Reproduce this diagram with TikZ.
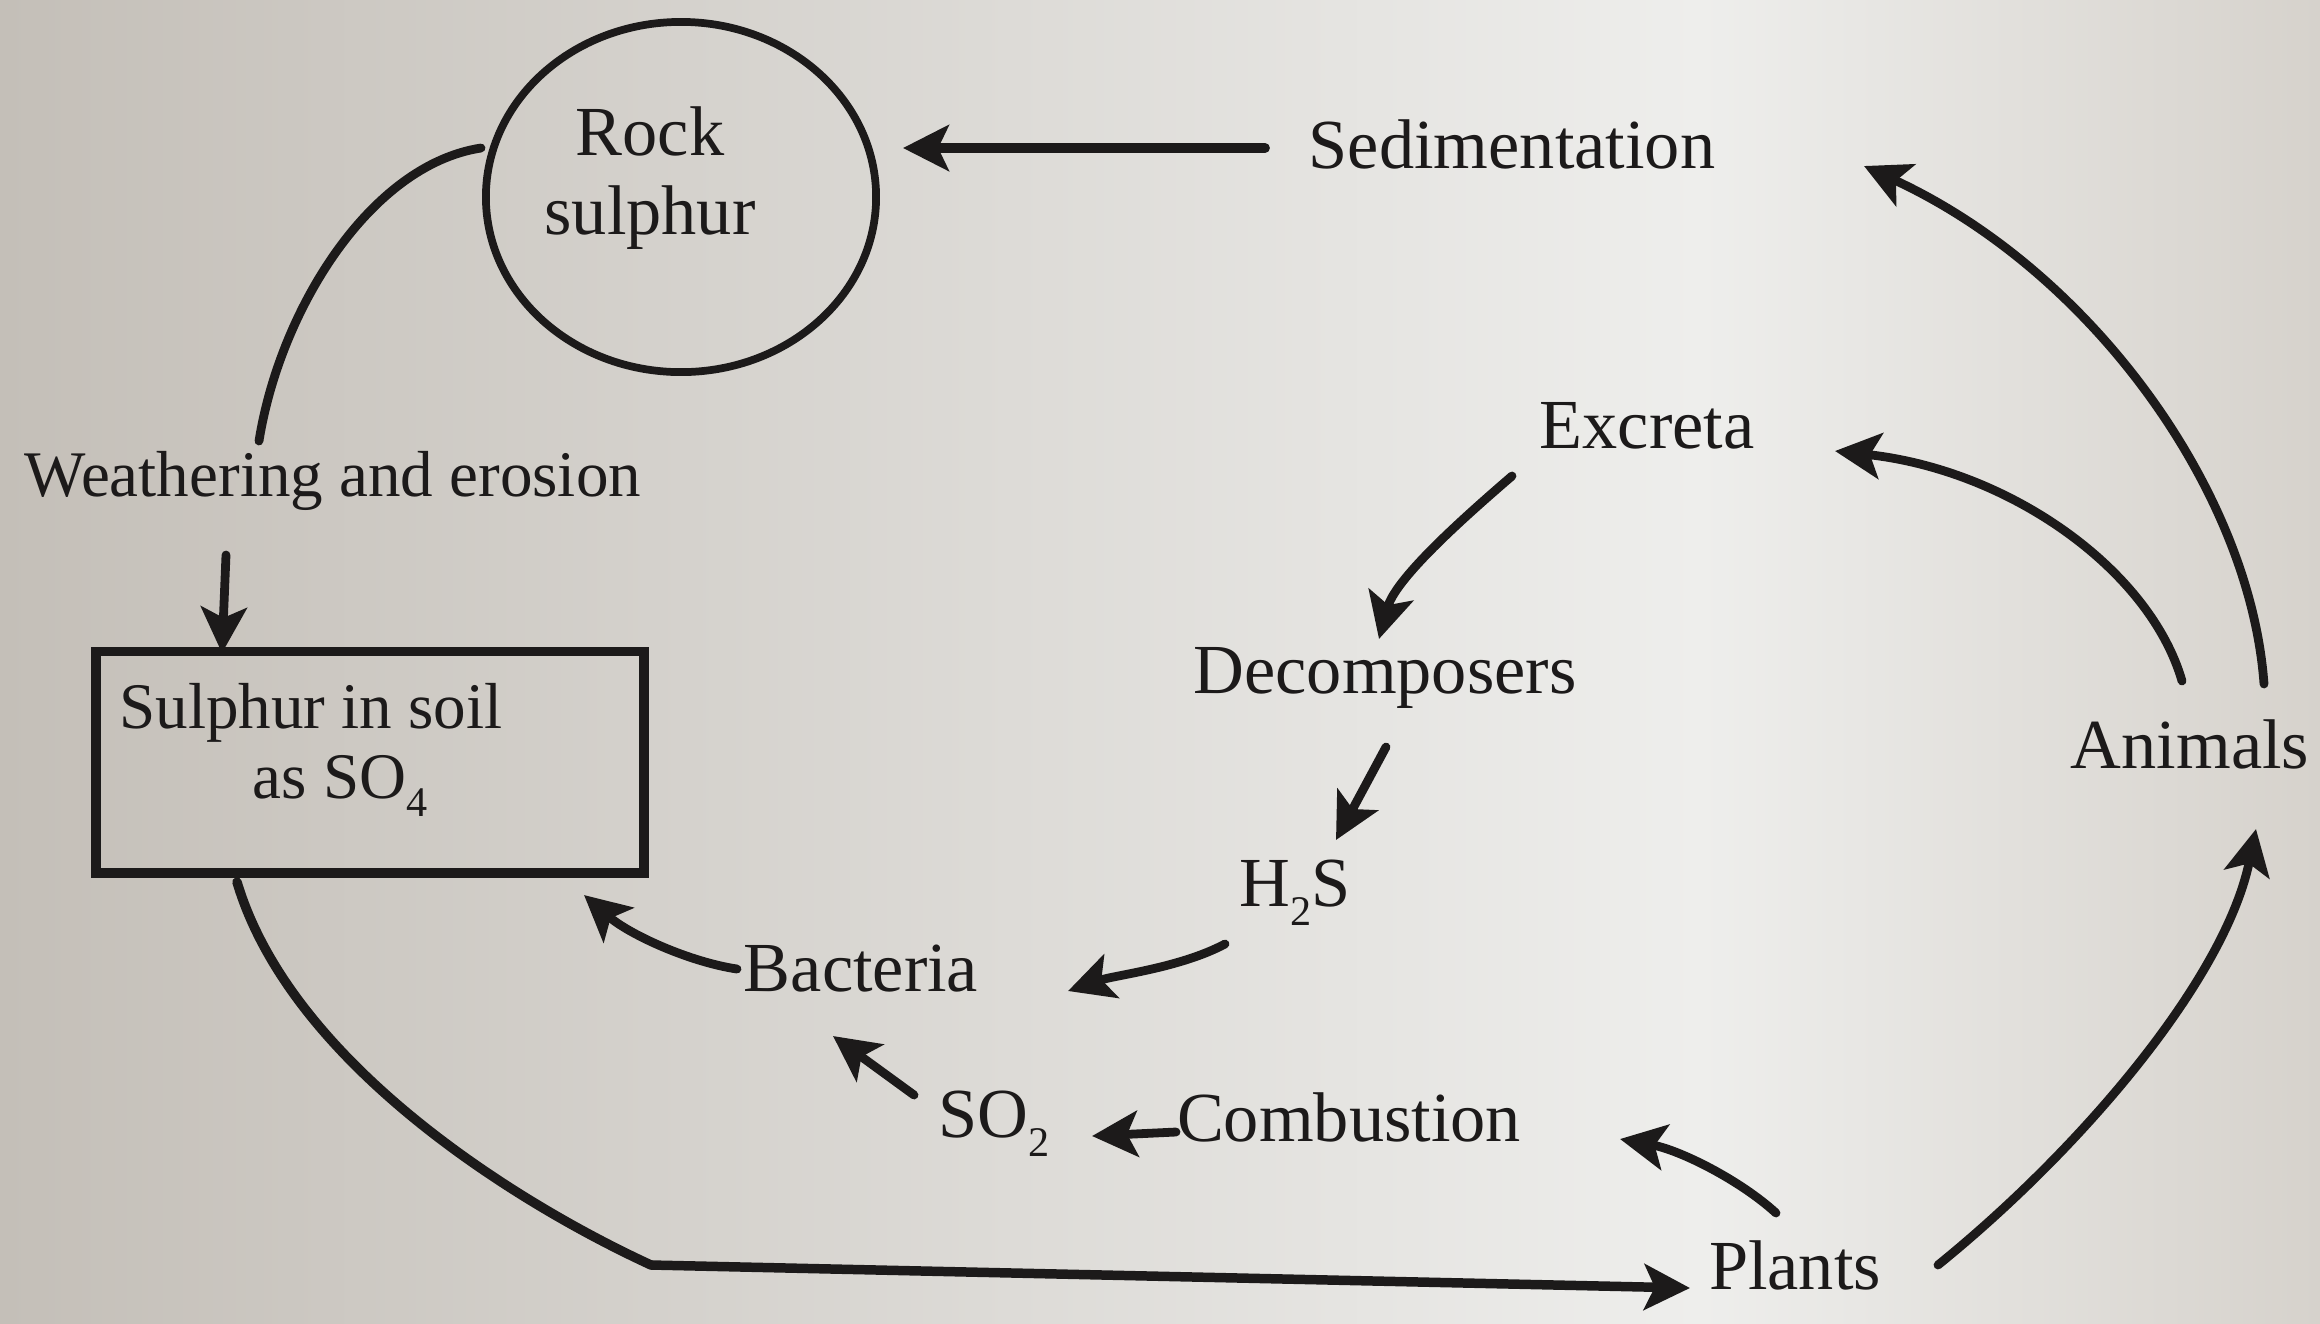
\documentclass[tikz,border=0pt]{standalone}
\usepackage{fontspec}
\setmainfont{Liberation Serif}
\usetikzlibrary{arrows.meta,shapes.geometric}
\definecolor{ink}{RGB}{28,26,26}
\definecolor{bgL}{RGB}{196,191,184}
\definecolor{bgM}{RGB}{238,238,236}
\definecolor{bgR}{RGB}{214,210,204}
\newcommand\lowsub[1]{\raisebox{-0.6ex}{\fontsize{12}{12}\selectfont #1}}
\begin{document}
\begin{tikzpicture}[x=0.01cm,y=-0.01cm,
  lbl/.style={text=ink, font=\fontsize{20}{22}\selectfont, inner sep=1pt},
  small/.style={text=ink, font=\fontsize{18.5}{20}\selectfont, inner sep=1pt},
  flow/.style={draw=ink, line width=2.5pt, line cap=round,
    -{Stealth[length=13pt,width=13pt,inset=3pt]}},
  plain/.style={draw=ink, line width=2.5pt, line cap=round}]
\useasboundingbox (0,0) rectangle (2320,1323);
\shade[left color=bgL, right color=bgM] (0,0) rectangle (1700,1323);
\shade[left color=bgM, right color=bgR] (1700,0) rectangle (2320,1323);

% nodes
\node[ellipse, draw=ink, line width=2.2pt, minimum width=3.9cm, minimum height=3.5cm, inner sep=0] (rock) at (681,197) {};
\node[lbl, align=center, font=\fontsize{20}{22.5}\selectfont] (rocktxt) at (650,178) {Rock\\sulphur};
\node[lbl] (sed) at (1512,144) {Sedimentation};
\node[small] (weath) at (333,481) {Weathering and erosion};
\node[draw=ink, line width=2.8pt, minimum width=5.48cm, minimum height=2.21cm, inner sep=0] (box) at (370,762) {};
\node[small] (soil1) at (311,713) {Sulphur in soil};
\node[small] (soil2) at (340,786) {as SO\lowsub{4}};
\node[lbl] (excreta) at (1647,426) {Excreta};
\node[lbl] (decomp) at (1385,678) {Decomposers};
\node[lbl] (hs) at (1295,893) {H\lowsub{2}S};
\node[lbl] (bact) at (861,969) {Bacteria};
\node[lbl] (so2) at (994,1124) {SO\lowsub{2}};
\node[lbl] (comb) at (1349,1117) {Combustion};
\node[lbl] (plants) at (1795,1265) {Plants};
\node[lbl] (animals) at (2190,744) {Animals};

% connector end points
\coordinate (wA) at (259,441);
\coordinate (wB) at (481,148);
\coordinate (wdA) at (226,555);
\coordinate (wdB) at (222,653);
\coordinate (sA) at (1265,148);
\coordinate (sB) at (903,148);
\coordinate (bpA) at (237,882);
\coordinate (bpM) at (651,1265);
\coordinate (bpB) at (1690,1288);
\coordinate (paA) at (1938,1265);
\coordinate (paB) at (2256,829);
\coordinate (aeA) at (2182,681);
\coordinate (aeB) at (1835,451);
\coordinate (asA) at (2264,684);
\coordinate (asB) at (1864,166);
\coordinate (edA) at (1512,476);
\coordinate (edB) at (1379,639);
\coordinate (dhA) at (1386,747);
\coordinate (dhB) at (1336,840);
\coordinate (hbA) at (1225,944);
\coordinate (hbB) at (1068,991);
\coordinate (bbA) at (737,969);
\coordinate (bbB) at (584,895);
\coordinate (sbA) at (914,1095);
\coordinate (sbB) at (833,1036);
\coordinate (csA) at (1176,1132);
\coordinate (csB) at (1092,1136);
\coordinate (pcA) at (1776,1213);
\coordinate (pcB) at (1620,1139);

% connectors
\draw[plain] (wA) .. controls (280,310) and (370,165) .. (wB);
\draw[flow] (wdA) -- (wdB);
\draw[flow, line width=2.8pt] (sA) -- (sB);
\draw[plain, line width=2.7pt] (bpA) .. controls (290,1060) and (510,1200) .. (bpM);
\draw[flow, line width=2.7pt] (bpM) -- (bpB);
\draw[flow] (paA) .. controls (2080,1150) and (2225,980) .. (paB);
\draw[flow] (aeA) .. controls (2150,570) and (2010,470) .. (aeB);
\draw[flow] (asA) .. controls (2250,490) and (2090,270) .. (asB);
\draw[flow] (edA) .. controls (1455,525) and (1395,580) .. (edB);
\draw[flow] (dhA) -- (dhB);
\draw[flow] (hbA) .. controls (1180,968) and (1115,975) .. (hbB);
\draw[flow] (bbA) .. controls (690,962) and (630,935) .. (bbB);
\draw[flow] (sbA) -- (sbB);
\draw[flow] (csA) -- (csB);
\draw[flow] (pcA) .. controls (1740,1180) and (1680,1150) .. (pcB);
\end{tikzpicture}
\end{document}
